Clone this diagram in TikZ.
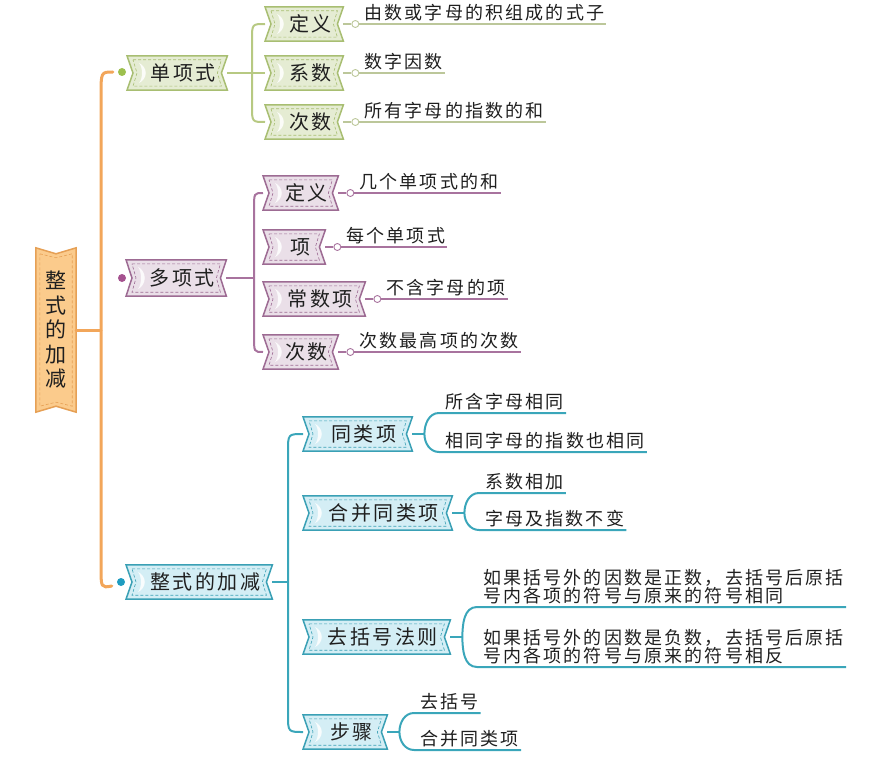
\documentclass[tikz,border=0pt]{standalone}
\usepackage{fontspec}
\newfontfamily\cjk[LetterSpace=12]{Noto Sans CJK SC}
\usetikzlibrary{positioning,backgrounds}

\definecolor{otrunk}{HTML}{F2A65A}
\definecolor{ofill}{HTML}{FBCB8C}
\definecolor{oedge}{HTML}{E6A055}
\definecolor{gline}{HTML}{B7C982}
\definecolor{gfill}{HTML}{E5ECD3}
\definecolor{gedge}{HTML}{A8BE72}
\definecolor{gdotc}{HTML}{9DC04E}
\definecolor{gleaf}{HTML}{BCC79A}
\definecolor{pline}{HTML}{A8739E}
\definecolor{pfill}{HTML}{EADFE8}
\definecolor{pedge}{HTML}{9D6B93}
\definecolor{pdotc}{HTML}{A5528F}
\definecolor{bline}{HTML}{3AA6BA}
\definecolor{bfill}{HTML}{D4EEF5}
\definecolor{bedge}{HTML}{3AA0B5}
\definecolor{bdotc}{HTML}{1E9CC0}

\tikzset{
  box/.style={anchor=west, inner sep=0pt, minimum height=34pt, text=black!88,
    font=\cjk\fontsize{20}{22}\selectfont, execute at begin node=\hspace*{12pt}},
  dot/.style={circle, inner sep=0pt, minimum size=7pt, fill=white, line width=.9pt},
  hub/.style={circle, inner sep=0pt, minimum size=8pt},
  leaf/.style={anchor=south west, inner xsep=0pt, inner ysep=3pt, text=black!88,
    font=\cjk\fontsize{18}{18}\selectfont, align=left},
  trunk/.style={otrunk, line width=3pt, line cap=round},
}

% banner shape behind a node
\newcommand\ribbon[3]{%
  \begin{scope}[on background layer]
    \filldraw[fill=#2, draw=#3, line width=1.5pt]
      (#1.north west) -- (#1.north east) -- ([xshift=-6pt]#1.east)
      -- (#1.south east) -- (#1.south west) -- ([xshift=6pt]#1.west) -- cycle;
    \draw[#3, line width=.6pt, dash pattern=on 3pt off 2pt]
      ([shift={(6pt,-4pt)}]#1.north west) -- ([shift={(-6pt,-4pt)}]#1.north east)
      -- ([xshift=-10pt]#1.east) -- ([shift={(-6pt,4pt)}]#1.south east)
      -- ([shift={(6pt,4pt)}]#1.south west) -- ([xshift=10pt]#1.west) -- cycle;
    \fill[white, opacity=.85] ([shift={(12pt,-7pt)}]#1.north west)
      .. controls ([shift={(21pt,-12pt)}]#1.north west) and ([shift={(21pt,12pt)}]#1.south west)
      .. ([shift={(12pt,7pt)}]#1.south west)
      .. controls ([shift={(16pt,12pt)}]#1.south west) and ([shift={(16pt,-12pt)}]#1.north west)
      .. ([shift={(12pt,-7pt)}]#1.north west);
  \end{scope}}

\begin{document}
\begin{tikzpicture}[x=1pt, y=-1pt]
  \useasboundingbox (0,0) rectangle (871,760);

  % root
  \node[inner sep=0pt, minimum width=40pt, minimum height=164pt, align=center, text=black!88,
    font=\cjk\fontsize{21}{24.5}\selectfont] (root) at (56,330) {整\\式\\的\\加\\减};
  \begin{scope}[on background layer]
    \filldraw[fill=ofill, draw=oedge, line width=1.5pt]
      (root.north west) -- ([yshift=-6pt]root.north) -- (root.north east)
      -- (root.south east) -- ([yshift=6pt]root.south) -- (root.south west) -- cycle;
    \draw[oedge, line width=.6pt, dash pattern=on 3pt off 2pt]
      ([shift={(4pt,-6pt)}]root.north west) -- ([yshift=-10pt]root.north)
      -- ([shift={(-4pt,-6pt)}]root.north east) -- ([shift={(-4pt,6pt)}]root.south east)
      -- ([yshift=10pt]root.south) -- ([shift={(4pt,6pt)}]root.south west) -- cycle;
  \end{scope}

  % first level
  \node[hub, fill=gdotc] (gd) at (122,72) {};
  \node[hub, fill=pdotc] (pd) at (122,278) {};
  \node[hub, fill=bdotc] (bd) at (121,582) {};
  \node[box, minimum width=100pt] (g0) at (127,73) {单项式};
  \node[box, minimum width=100pt, minimum height=36pt] (p0) at (126,278) {多项式};
  \node[box, minimum width=146pt] (b0) at (126,582) {整式的加减};
  \ribbon{g0}{gfill}{gedge}
  \ribbon{p0}{pfill}{pedge}
  \ribbon{b0}{bfill}{bedge}

  \coordinate (tk) at (101,330);
  \draw[trunk] (root.east) -- (tk);
  \draw[trunk] ([xshift=-5pt]gd.west) .. controls (101,72) .. (101,96) -- (101,566)
    .. controls (101,588) .. ([shift={(-5pt,-4pt)}]bd.west);

  % 单项式
  \foreach \n/\y/\lab/\txt in {1/24/定义/由数或字母的积组成的式子, 2/73/系数/数字因数,
      3/122/次数/所有字母的指数的和}{
    \node[box, minimum width=78pt] (g\n) at (265,\y) {\lab};
    \ribbon{g\n}{gfill}{gedge}
    \node[dot, draw=gleaf, right=8pt of g\n] (go\n) {};
    \node[leaf] (gt\n) at ([xshift=5pt]go\n.east) {\txt};
    \draw[gleaf, line width=1.2pt] (g\n.east) -- (go\n.west);
    \draw[gleaf, line width=1.2pt] (go\n.east) -- ([xshift=2pt]gt\n.south east);
  }
  \draw[gline, line width=2pt] (g0.east) -- (g2.west);
  \draw[gline, line width=2pt] (g1.west) .. controls (252,24) .. (252,40) -- (252,106)
    .. controls (252,122) .. (g3.west);

  % 多项式
  \foreach \n/\y/\w/\lab/\txt in {1/193/75/定义/几个单项式的和, 2/247/62/项/每个单项式,
      3/299/102/常数项/不含字母的项, 4/352/75/次数/次数最高项的次数}{
    \node[box, minimum width=\w pt] (p\n) at (263,\y) {\lab};
    \ribbon{p\n}{pfill}{pedge}
    \node[dot, draw=pline, right=8pt of p\n] (po\n) {};
    \node[leaf] (pt\n) at ([xshift=5pt]po\n.east) {\txt};
    \draw[pline, line width=1.5pt] (p\n.east) -- (po\n.west);
    \draw[pline, line width=1.5pt] (po\n.east) -- ([xshift=2pt]pt\n.south east);
  }
  \coordinate (pj) at (254,278);
  \draw[pline, line width=2pt] (p0.east) -- (pj);
  \draw[pline, line width=2pt] (p1.west) .. controls (254,193) .. (254,209) -- (254,336)
    .. controls (254,352) .. (p4.west);

  % 整式的加减
  \foreach \n/\y/\w/\lab/\yu/\yl/\tu/\tl in {
      1/434/109/同类项/413/452/所含字母相同/相同字母的指数也相同,
      2/513/149/合并同类项/493/530/系数相加/字母及指数不变,
      3/637/147/去括号法则/607/667/{如果括号外的因数是正数，去括号后原括\\号内各项的符号与原来的符号相同}/{如果括号外的因数是负数，去括号后原括\\号内各项的符号与原来的符号相反},
      4/732/84/步骤/713/750/去括号/合并同类项}{
    \node[box, minimum width=\w pt] (b\n) at (303,\y) {\lab};
    \ribbon{b\n}{bfill}{bedge}
    \coordinate[right=12pt of b\n] (bf\n);
    \node[leaf] (bu\n) at ({336+\w},\yu) {\tu};
    \node[leaf] (bl\n) at ({336+\w},\yl) {\tl};
    \draw[bline, line width=2pt] (b\n.east) -- (bf\n);
    \draw[bline, line width=2pt] (bf\n) to[out=90, in=180] ([xshift=-6pt]bu\n.south west)
      -- ([xshift=2pt]bu\n.south east);
    \draw[bline, line width=2pt] (bf\n) to[out=-90, in=180] ([xshift=-6pt]bl\n.south west)
      -- ([xshift=2pt]bl\n.south east);
  }
  \coordinate (bj) at (288,582);
  \draw[bline, line width=2pt] (b0.east) -- (bj);
  \draw[bline, line width=2pt] (b1.west) .. controls (288,434) .. (288,452) -- (288,714)
    .. controls (288,732) .. (b4.west);
\end{tikzpicture}
\end{document}
